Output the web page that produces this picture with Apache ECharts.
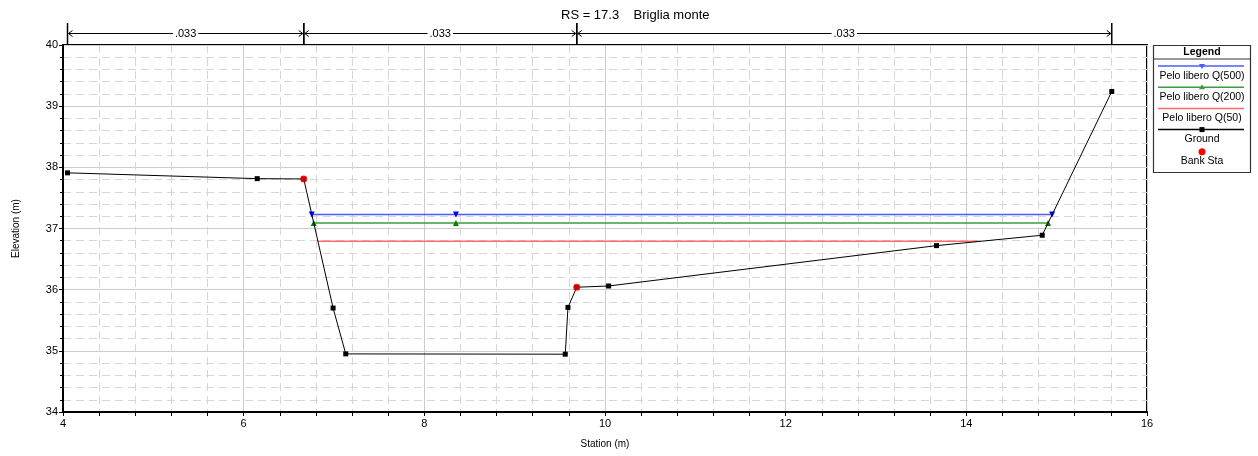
<!DOCTYPE html>
<html><head><meta charset="utf-8">
<script src="https://cdn.jsdelivr.net/npm/echarts@6/dist/echarts.min.js"></script>
<style>html,body{margin:0;padding:0;background:#fff}#c{width:1258px;height:456px}</style>
</head><body><div id="c"></div>
<script>
// ---- data ----
const chartTitle = 'RS = 17.3    Briglia monte';
const xAxisName = 'Station (m)';
const yAxisName = 'Elevation (m)';
const groundStation = [4.05, 6.15, 6.665, 6.99, 7.13, 9.56, 9.59, 9.687, 10.04, 13.67, 14.84, 15.61];
const groundElev    = [37.91, 37.815, 37.81, 35.70, 34.95, 34.945, 35.71, 36.04, 36.06, 36.72, 36.89, 39.24];
const bankStation = [6.665, 9.687];
const bankElev    = [37.81, 36.04];
const q500Station = [6.754, 8.35, 14.95];
const q500Elev    = [37.23, 37.23, 37.23];
const q200Station = [6.776, 8.35, 14.905];
const q200Elev    = [37.09, 37.09, 37.09];
const q50Station  = [6.82, 14.13];
const q50Elev     = [36.79, 36.79];
const manningBreaks = [4.05, 6.665, 9.687, 15.61];
const manningN = ['.033', '.033', '.033'];
const legendLabels = ['Pelo libero Q(500)', 'Pelo libero Q(200)', 'Pelo libero Q(50)', 'Ground', 'Bank Sta'];

const FONT = '"Liberation Sans", Arial, sans-serif';
const C500 = '#4a5cff', C200 = '#3f9a3f', C50 = '#ff6a6a';
const zip = (a, b) => a.map((v, i) => [v, b[i]]);

const chart = echarts.init(document.getElementById('c'), null, {renderer: 'canvas'});

// legend drawn as graphic (stacked line-above-text layout)
const LX = 1153.5, LY = 45.5, LW = 97, LH = 127, LC = LX + LW / 2;
const legendG = [
  {type: 'rect', shape: {x: LX, y: LY, width: LW, height: LH}, style: {fill: '#fff', stroke: '#333', lineWidth: 1.2}, z: 10},
  {type: 'text', style: {text: 'Legend', x: LC, y: 52, align: 'center', verticalAlign: 'middle', font: 'bold 10.5px ' + FONT, fill: '#000'}, z: 11},
  {type: 'line', shape: {x1: LX, y1: 59, x2: LX + LW, y2: 59}, style: {stroke: '#333', lineWidth: 1}, z: 11}
];
const legendColors = [C500, C200, C50, '#000'];
legendColors.forEach((col, i) => {
  const y = 66 + i * 21.2;
  legendG.push({type: 'line', shape: {x1: 1158, y1: y, x2: 1244, y2: y}, style: {stroke: col, lineWidth: 1.5}, z: 11});
  if (i === 0) legendG.push({type: 'polygon', shape: {points: [[LC - 3, y - 2], [LC + 3, y - 2], [LC, y + 3]]}, style: {fill: col}, z: 12});
  if (i === 1) legendG.push({type: 'polygon', shape: {points: [[LC - 3, y + 2], [LC + 3, y + 2], [LC, y - 3]]}, style: {fill: col}, z: 12});
  if (i === 3) legendG.push({type: 'rect', shape: {x: LC - 2.5, y: y - 2.5, width: 5, height: 5}, style: {fill: col}, z: 12});
  legendG.push({type: 'text', style: {text: legendLabels[i], x: LC, y: y + 10, align: 'center', verticalAlign: 'middle', font: '10.5px ' + FONT, fill: '#000'}, z: 11});
});
legendG.push({type: 'circle', shape: {cx: LC, cy: 151.7, r: 3.5}, style: {fill: '#ff0000'}, z: 12});
legendG.push({type: 'text', style: {text: legendLabels[4], x: LC, y: 161.3, align: 'center', verticalAlign: 'middle', font: '10.5px ' + FONT, fill: '#000'}, z: 11});

const option = {
  animation: false,
  backgroundColor: '#fff',
  textStyle: {fontFamily: FONT},
  title: {text: chartTitle, left: 561, top: 9, padding: 0, textStyle: {fontSize: 13, fontWeight: 'normal', color: '#000', fontFamily: FONT}},
  grid: {left: 63, right: 111, top: 45, bottom: 44, show: true, borderColor: '#000', borderWidth: 2, backgroundColor: 'transparent'},
  xAxis: {
    type: 'value', min: 4, max: 16, interval: 2,
    name: xAxisName, nameLocation: 'middle', nameGap: 27,
    nameTextStyle: {fontSize: 10, color: '#000', fontFamily: FONT},
    axisLine: {show: true, lineStyle: {color: '#000', width: 2}},
    axisTick: {show: true, length: 4, lineStyle: {color: '#000'}},
    minorTick: {show: true, splitNumber: 5, length: 4, lineStyle: {color: '#000'}},
    axisLabel: {fontSize: 11, color: '#000', margin: 6, fontFamily: FONT},
    splitLine: {show: true, lineStyle: {color: '#cccccc', width: 1}},
    minorSplitLine: {show: true, lineStyle: {color: '#d6d6d6', width: 1, type: [8, 5]}}
  },
  yAxis: {
    type: 'value', min: 34, max: 40, interval: 1,
    name: yAxisName, nameLocation: 'middle', nameGap: 42, nameRotate: 90,
    nameTextStyle: {fontSize: 10, color: '#000', fontFamily: FONT},
    axisLine: {show: true, lineStyle: {color: '#000', width: 2}},
    axisTick: {show: true, length: 4, lineStyle: {color: '#000'}},
    minorTick: {show: true, splitNumber: 5, length: 3, lineStyle: {color: '#000'}},
    axisLabel: {fontSize: 11, color: '#000', margin: 5, fontFamily: FONT},
    splitLine: {show: true, lineStyle: {color: '#cccccc', width: 1}},
    minorSplitLine: {show: true, lineStyle: {color: '#d6d6d6', width: 1, type: [8, 5]}}
  },
  graphic: legendG,
  series: [
    {
      name: 'Manning', type: 'custom', clip: false, silent: true,
      data: manningN.map((n, i) => [manningBreaks[i], manningBreaks[i + 1], i]),
      encode: {x: [0, 1]},
      renderItem: function (params, api) {
        const a = api.coord([api.value(0), 40]);
        const b = api.coord([api.value(1), 40]);
        const top = a[1];
        const y = top - 11.5;
        const mid = (a[0] + b[0]) / 2;
        const st = {stroke: '#000', lineWidth: 1, fill: null};
        return {type: 'group', children: [
          {type: 'line', shape: {x1: a[0] + 1, y1: y, x2: b[0] - 1, y2: y}, style: st},
          {type: 'polyline', shape: {points: [[a[0] + 5, y - 3], [a[0] + 1, y], [a[0] + 5, y + 3]]}, style: st},
          {type: 'polyline', shape: {points: [[b[0] - 5, y - 3], [b[0] - 1, y], [b[0] - 5, y + 3]]}, style: st},
          {type: 'text', style: {text: manningN[api.value(2)], x: mid, y: y + 0.5, align: 'center', verticalAlign: 'middle',
            font: '11px ' + FONT, fill: '#000', backgroundColor: '#fff', padding: [0, 2]}},
          {type: 'line', shape: {x1: a[0], y1: top - 22, x2: a[0], y2: top}, style: {stroke: '#000', lineWidth: 1.5}},
          {type: 'line', shape: {x1: b[0], y1: top - 22, x2: b[0], y2: top}, style: {stroke: '#000', lineWidth: 1.5}}
        ]};
      }
    },
    {
      name: legendLabels[0], type: 'line', data: zip(q500Station, q500Elev),
      symbol: 'triangle', symbolRotate: 180, symbolSize: 6, showAllSymbol: true,
      lineStyle: {color: C500, width: 1.5}, itemStyle: {color: '#0000ff'}, z: 3
    },
    {
      name: legendLabels[1], type: 'line', data: zip(q200Station, q200Elev),
      symbol: 'triangle', symbolSize: 6, showAllSymbol: true,
      lineStyle: {color: C200, width: 1.5}, itemStyle: {color: '#008000'}, z: 3
    },
    {
      name: legendLabels[2], type: 'line', data: zip(q50Station, q50Elev),
      symbol: 'none', lineStyle: {color: C50, width: 1.5}, z: 3
    },
    {
      name: legendLabels[3], type: 'line', data: zip(groundStation, groundElev),
      symbol: 'rect', symbolSize: 5, showAllSymbol: true,
      lineStyle: {color: '#000', width: 1}, itemStyle: {color: '#000'}, z: 4
    },
    {
      name: legendLabels[4], type: 'scatter', data: zip(bankStation, bankElev),
      symbol: 'circle', symbolSize: 7, itemStyle: {color: '#ff0000'}, z: 5
    }
  ]
};
chart.setOption(option);
</script>
</body></html>
